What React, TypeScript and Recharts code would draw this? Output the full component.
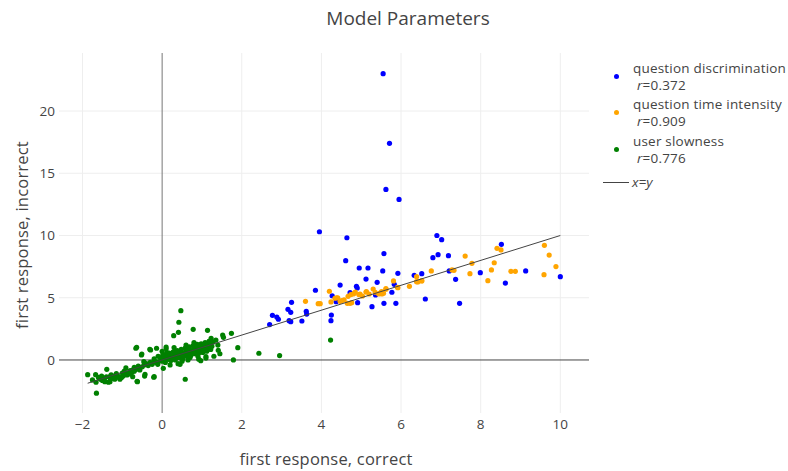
import React from 'react';
import { ScatterChart, Scatter, XAxis, YAxis, ReferenceLine } from 'recharts';

const xTicks = [-2, 0, 2, 4, 6, 8, 10];
const yTicks = [0, 5, 10, 15, 20];

const seriesNames = ['question discrimination', 'question time intensity', 'user slowness'];
const seriesR = ['0.372', '0.909', '0.776'];
const seriesColors = ['#0000ff', '#ffa500', '#008000'];

// [correct, incorrect]
const discrimination: [number, number][] = [
  [5.55, 23.0], [5.71, 17.4], [5.62, 13.7], [5.95, 12.9], [6.9, 10.0], [7.02, 9.66], [8.52, 9.29],
  [5.57, 8.54], [5.54, 7.15], [5.92, 6.96], [5.83, 6.08], [5.77, 5.44], [5.57, 4.55], [5.87, 4.55],
  [6.33, 6.8], [6.52, 6.93], [6.61, 4.9], [6.8, 8.22], [6.93, 8.46], [7.19, 8.38], [7.21, 7.15],
  [7.37, 6.48], [7.47, 4.55], [7.99, 7.01], [8.62, 6.18], [9.13, 7.15], [10.0, 6.69],
  [3.95, 10.3], [4.64, 9.82], [4.61, 7.98], [4.95, 7.39], [5.17, 7.39], [5.12, 6.5], [5.4, 6.24],
  [4.47, 6.02], [3.85, 5.6], [4.9, 5.78], [4.88, 5.92], [4.72, 5.41], [4.37, 4.68], [4.27, 5.16],
  [4.91, 4.6], [5.27, 4.28], [5.36, 5.22], [4.25, 3.61], [4.24, 3.16], [3.25, 4.63], [3.16, 4.07],
  [3.23, 3.83], [3.62, 3.91], [3.63, 3.69], [2.77, 3.59], [2.88, 3.45], [2.92, 3.27], [3.19, 3.16],
  [3.23, 3.08], [3.51, 3.13], [2.7, 2.84],
];

const timeIntensity: [number, number][] = [
  [7.61, 8.35], [7.78, 7.76], [7.73, 6.93], [8.34, 7.81], [8.27, 7.23], [8.18, 6.37], [8.41, 8.97],
  [8.51, 8.84], [8.76, 7.12], [8.87, 7.12], [9.6, 9.21], [9.72, 8.43], [9.89, 7.5], [9.59, 6.85],
  [6.76, 7.15], [7.28, 7.23], [7.33, 7.2], [6.39, 6.69], [6.42, 6.27], [6.52, 6.37], [5.81, 6.35],
  [5.92, 5.81], [6.21, 5.92], [5.62, 5.73], [5.56, 5.36], [5.52, 5.3], [4.2, 5.52], [3.6, 4.71],
  [3.92, 4.52], [3.97, 4.52], [4.24, 4.66], [4.34, 4.96], [4.41, 5.0], [4.47, 4.71], [4.57, 4.82],
  [4.67, 5.11], [4.72, 4.55], [4.8, 5.3], [4.85, 5.46], [4.94, 5.25], [5.03, 5.14], [5.13, 5.49],
  [5.2, 5.3], [5.3, 5.7], [5.35, 5.44], [5.44, 5.3], [5.51, 5.49], [5.62, 5.68], [4.65, 4.55],
  [4.76, 4.6], [4.51, 4.76], [4.74, 5.25], [4.97, 5.3], [5.12, 5.46], [5.47, 5.38], [5.91, 5.84],
  [6.39, 6.29], [6.52, 6.35], [4.38, 5.0], [4.82, 5.36],
];

const slowness: [number, number][] = [
  // lower left band
  [-1.87, -1.18], [-1.67, -1.18], [-1.65, -2.67], [-1.66, -1.79], [-1.52, -1.29], [-1.39, -0.75],
  [-1.44, -1.74], [-1.31, -1.74], [-1.23, -1.47], [-1.1, -1.39], [-0.98, -1.29], [-0.91, -0.64],
  [-0.85, -1.07], [-0.74, -1.34], [-0.63, -1.71], [-0.56, -0.8], [-0.64, 1.02], [-0.52, 0.4],
  [-0.43, -1.15], [-0.31, 0.86], [-0.14, 0.94], [-1.31, -1.34], [-1.19, -1.55], [-1.06, -1.55],
  [-1.35, -1.79], [-1.45, -1.5], [-1.4, -1.35], [-1.28, -1.2], [-1.2, -1.3], [-1.15, -1.1],
  [-1.0, -1.05], [-0.95, -0.9], [-0.88, -1.2], [-0.8, -0.85], [-0.75, -0.95], [-0.7, -0.6],
  [-0.65, -0.75], [-0.6, -0.5], [-0.5, -0.55], [-0.45, -0.4], [-0.4, -0.3], [-0.35, -0.45],
  [-0.3, -0.2], [-0.25, -0.35], [-0.2, -0.05], [-0.1, -0.15], [-1.55, -1.55], [-1.6, -1.4],
  [-1.75, -1.6], [-1.5, -1.65], [-1.3, -1.5], [-1.12, -1.25], [-1.02, -1.4], [-0.92, -1.1],
  [-0.82, -1.0], [-0.7, -0.9], [-0.58, -0.62], [-0.46, -0.14], [-0.62, -1.74], [-0.21, -1.39],
  [0.58, -1.55], [-0.11, -0.35], [-0.2, -1.34], [0.03, -0.67], [-0.44, -1.29], [0.45, -0.35],
  [-0.73, -0.8], [-0.8, -1.12], [-0.66, 0.94], [-0.51, 0.48], [-0.29, 0.8],
  // dense cluster near the origin
  [0.05, 0.1], [0.1, 0.25], [0.15, 0.05], [0.2, 0.3], [0.25, 0.15], [0.3, 0.4], [0.35, 0.2],
  [0.4, 0.5], [0.45, 0.35], [0.5, 0.6], [0.55, 0.4], [0.6, 0.7], [0.65, 0.5], [0.7, 0.8],
  [0.75, 0.65], [0.8, 0.9], [0.85, 0.75], [0.9, 1.0], [0.95, 0.85], [1.0, 1.1], [1.05, 0.9],
  [1.1, 1.2], [1.15, 1.05], [1.2, 1.3], [1.25, 1.1], [0.0, -0.1], [-0.05, 0.2], [0.02, 0.45],
  [0.08, -0.2], [0.12, 0.6], [0.18, 0.55], [0.22, -0.05], [0.28, 0.65], [0.33, 0.0], [0.38, 0.75],
  [0.42, 0.2], [0.48, 0.85], [0.52, 0.1], [0.58, 0.95], [0.62, 0.3], [0.68, 1.05], [0.72, 0.35],
  [0.78, 1.15], [0.82, 0.5], [0.88, 1.25], [0.92, 0.55], [0.98, 1.3], [1.02, 0.6], [1.08, 1.4],
  [1.12, 0.7], [1.18, 1.5], [1.22, 0.85], [1.28, 1.45], [1.3, 0.3], [0.5, -0.1], [0.7, 0.2],
  [0.9, 0.3], [1.1, 0.15], [-0.1, 0.3], [-0.15, -0.2], [-0.2, 0.1], [0.0, 0.7], [0.1, 0.9],
  [0.3, 1.0], [0.6, 1.2], [0.8, 1.4], [1.35, 1.6], [1.4, 1.2], [1.45, 0.5], [0.4, -0.3], [0.2, -0.4],
  [0.65, 0.0], [0.04, 0.32], [0.16, 0.42], [0.27, 0.28], [0.36, 0.55], [0.44, 0.62], [0.53, 0.45],
  [0.64, 0.82], [0.74, 0.58], [0.86, 0.95], [0.96, 0.68], [1.06, 1.12], [1.16, 0.95],
  // scattered
  [0.47, 3.96], [0.42, 3.03], [0.41, 2.22], [0.29, 1.95], [0.78, 2.46], [1.14, 2.38], [1.52, 2.0],
  [1.74, 2.14], [1.23, 1.74], [1.18, 1.47], [1.41, 0.78], [1.9, 0.99], [1.79, 0.0], [1.1, 0.27],
  [0.92, 0.06], [0.97, -0.06], [0.1, 1.04], [2.43, 0.54], [2.95, 0.35], [4.23, 1.6], [1.54, 1.82],
];

const identity: [number, number][] = [[-1.87, -1.87], [10, 10]];

const toPoints = (arr: [number, number][]) => arr.map(([x, y]) => ({ x, y }));
const seriesData = [discrimination, timeIntensity, slowness].map(toPoints);

const FONT = '"Open Sans", verdana, arial, sans-serif';
const TEXT = '#444';

const dot = (color: string) => (p: any) => <circle cx={p.cx} cy={p.cy} r={2.6} fill={color} />;

const LegendBox = () => {
  const rows = [68, 104, 141];
  return (
    <div style={{ position: 'absolute', left: 0, top: 0, fontFamily: FONT, fontSize: 13.5, color: TEXT }}>
      {seriesNames.map((name, i) => (
        <React.Fragment key={name}>
          <div style={{ position: 'absolute', left: 613.5, top: rows[i] + 6, width: 5, height: 5, borderRadius: 3, background: seriesColors[i] }} />
          <div style={{ position: 'absolute', left: 633, top: rows[i] - 8, lineHeight: '16px', whiteSpace: 'nowrap', letterSpacing: 0.2 }}>{name}</div>
          <div style={{ position: 'absolute', left: 637, top: rows[i] + 9, lineHeight: '16px', whiteSpace: 'nowrap', letterSpacing: 0.2 }}>
            <i>r</i>={seriesR[i]}
          </div>
        </React.Fragment>
      ))}
      <div style={{ position: 'absolute', left: 603, top: 181.5, width: 26, height: 1, background: TEXT }} />
      <div style={{ position: 'absolute', left: 632, top: 174, lineHeight: '16px', fontStyle: 'italic' }}>x=y</div>
    </div>
  );
};

export default function App() {
  return (
    <div style={{ position: 'relative', width: 788, height: 471, background: '#fff' }}>
      <style>{'body{margin:0}'}</style>
      <ScatterChart width={788} height={471} margin={{ top: 53, right: 199, bottom: 0, left: 0 }}>
        <XAxis
          type="number"
          dataKey="x"
          domain={[-2.59, 10.72]}
          ticks={xTicks}
          allowDataOverflow
          height={58}
          axisLine={false}
          tickLine={false}
          tickSize={0}
          tickMargin={6}
          tickFormatter={(v: number) => (v < 0 ? `\u2212${Math.abs(v)}` : `${v}`)}
          tick={{ fill: TEXT, fontSize: 13.5, fontFamily: FONT }}
        />
        <YAxis
          type="number"
          dataKey="y"
          domain={[-4.26, 24.66]}
          ticks={yTicks}
          allowDataOverflow
          width={59}
          axisLine={false}
          tickLine={false}
          tickSize={0}
          tickMargin={4}
          tick={{ fill: TEXT, fontSize: 13.5, fontFamily: FONT }}
        />
        {xTicks.filter((t) => t !== 0).map((t) => (
          <ReferenceLine key={`gx${t}`} x={t} stroke="#eee" strokeWidth={1} />
        ))}
        {yTicks.filter((t) => t !== 0).map((t) => (
          <ReferenceLine key={`gy${t}`} y={t} stroke="#eee" strokeWidth={1} />
        ))}
        <ReferenceLine x={0} stroke="#777" strokeWidth={1} />
        <ReferenceLine y={0} stroke={TEXT} strokeWidth={1} />
        {seriesData.map((d, i) => (
          <Scatter key={seriesNames[i]} name={seriesNames[i]} data={d} shape={dot(seriesColors[i])} isAnimationActive={false} />
        ))}
        <Scatter
          name="x=y"
          data={toPoints(identity)}
          line={{ stroke: TEXT, strokeWidth: 1 }}
          shape={() => <g />}
          isAnimationActive={false}
        />
      </ScatterChart>
      <div style={{ position: 'absolute', left: 408, top: 5, transform: 'translateX(-50%)', fontFamily: FONT, fontSize: 19, lineHeight: '26px', color: TEXT, whiteSpace: 'nowrap' }}>
        Model Parameters
      </div>
      <div style={{ position: 'absolute', left: 326, top: 449, transform: 'translateX(-50%)', fontFamily: FONT, fontSize: 16.5, lineHeight: '19px', color: TEXT, whiteSpace: 'nowrap', letterSpacing: 0.2 }}>
        first response, correct
      </div>
      <div style={{ position: 'absolute', left: 22, top: 235, transform: 'translate(-50%, -50%) rotate(-90deg)', fontFamily: FONT, fontSize: 16.5, lineHeight: '20px', color: TEXT, whiteSpace: 'nowrap', letterSpacing: 0.2 }}>
        first response, incorrect
      </div>
      <LegendBox />
    </div>
  );
}
